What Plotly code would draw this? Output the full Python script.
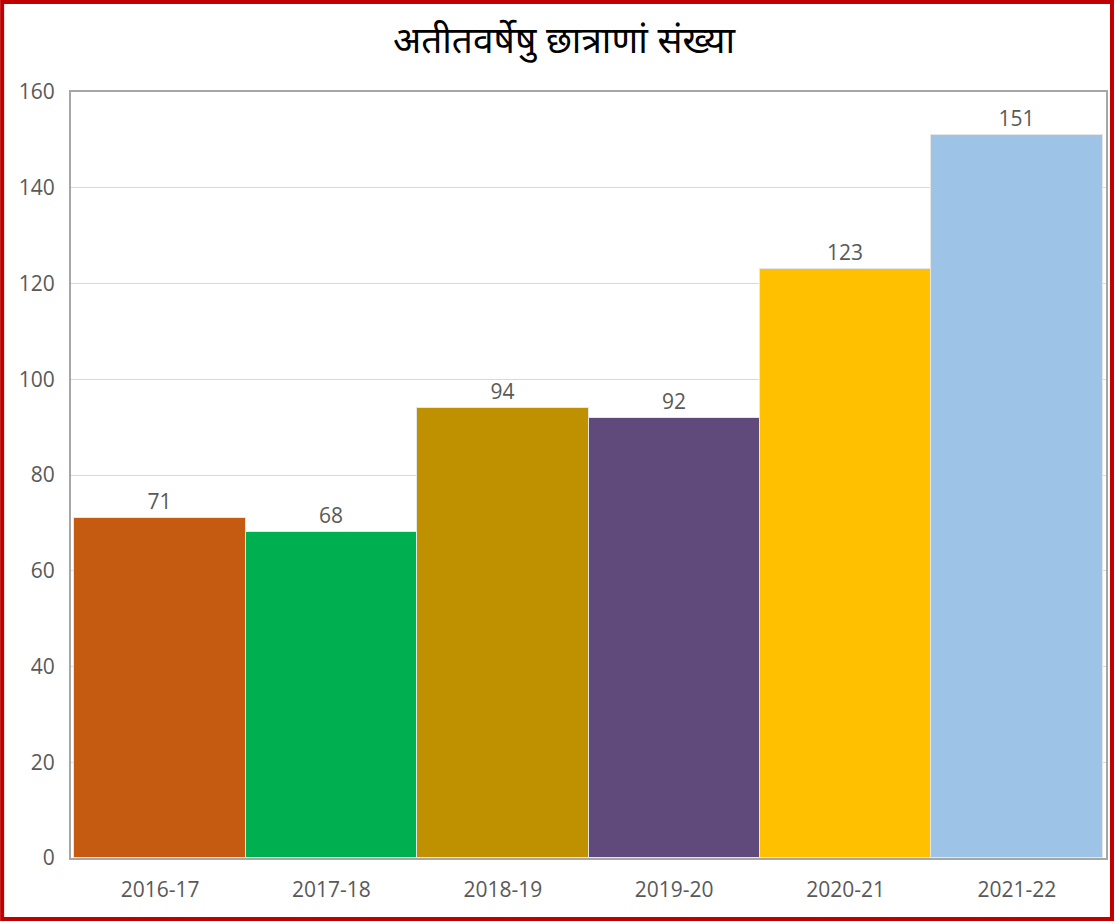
import plotly.graph_objects as go

categories = ["2016-17", "2017-18", "2018-19", "2019-20", "2020-21", "2021-22"]
values = [71, 68, 94, 92, 123, 151]
colors = ["#C55A11", "#00B050", "#BF9000", "#604A7B", "#FFC000", "#9DC3E6"]
title = "अतीतवर्षेषु छात्राणां संख्या"

W, H = 1117, 922
ml, mr, mt, mb = 71, 9, 92, 64
pw, ph = W - ml - mr, H - mt - mb

font_fam = "Open Sans, Noto Sans, sans-serif"

fig = go.Figure(go.Bar(
    x=list(range(len(categories))), y=values,
    marker=dict(color=colors, line=dict(color="#E6E6E6", width=1)),
    text=[str(v) for v in values], textposition="outside",
    textfont=dict(size=21, color="#595959", family=font_fam),
    cliponaxis=False, width=1.0,
))

def px_x(p):
    return (p - ml) / pw

def px_y(p):
    return 1 - (p - mt) / ph

fig.update_layout(
    width=W, height=H,
    margin=dict(l=ml, r=mr, t=mt, b=mb),
    paper_bgcolor="white", plot_bgcolor="white",
    bargap=0,
    showlegend=False,
    title=dict(text=title, x=564 / W, xref="container", xanchor="center",
               y=1 - 40 / H, yref="container", yanchor="middle",
               font=dict(size=37, color="black", family="Noto Sans Devanagari, Noto Sans, sans-serif")),
    xaxis=dict(tickmode="array", tickvals=list(range(len(categories))), ticktext=categories,
               range=[-0.52, 5.52], showgrid=False, ticks="",
               showline=True, mirror=True, linecolor="#A6A6A6", linewidth=2,
               ticklabelstandoff=12,
               tickfont=dict(size=21, color="#595959", family=font_fam)),
    yaxis=dict(range=[0, 160], dtick=20, showgrid=True, gridcolor="#D9D9D9", gridwidth=1,
               showline=True, mirror=True, linecolor="#A6A6A6", linewidth=2, ticks="",
               zeroline=False, ticklabelstandoff=10,
               tickfont=dict(size=21, color="#595959", family=font_fam)),
    shapes=[dict(type="rect", xref="paper", yref="paper",
                 x0=px_x(2), x1=px_x(1114), y0=px_y(919), y1=px_y(2),
                 line=dict(color="#C00000", width=4), fillcolor="rgba(0,0,0,0)", layer="above")],
)

fig.write_html("out.html", config={"displayModeBar": False},
               post_script="document.body.style.margin='0';document.body.style.overflow='hidden';")
